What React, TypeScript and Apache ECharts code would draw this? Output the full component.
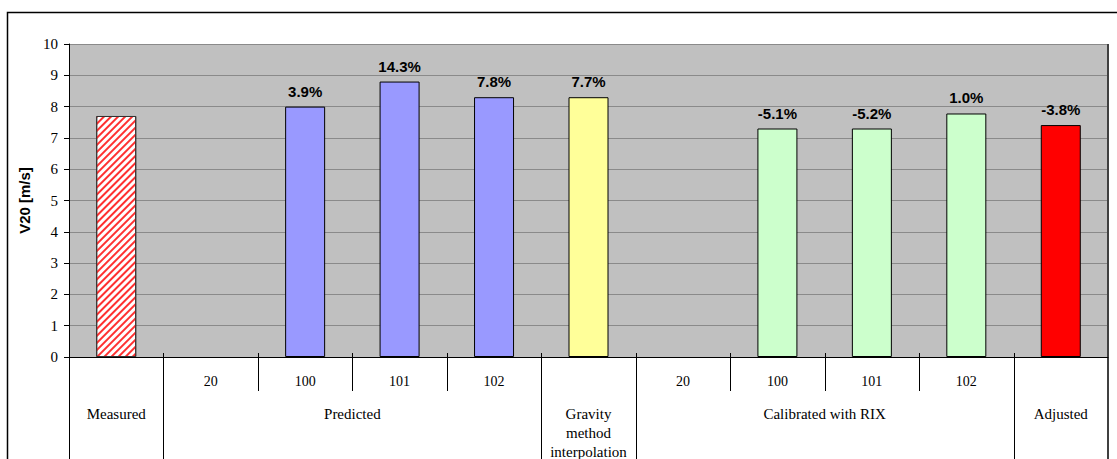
import React, { useEffect, useRef } from "react";
import * as echarts from "echarts";

const subLabels = ["", "20", "100", "101", "102", "", "20", "100", "101", "102", ""];
const values: (number | null)[] = [7.7, null, 8.0, 8.8, 8.3, 8.3, null, 7.3, 7.3, 7.78, 7.41];
const pctLabels = ["", "", "3.9%", "14.3%", "7.8%", "7.7%", "", "-5.1%", "-5.2%", "1.0%", "-3.8%"];
const barColors = [
  "#FFFFFF", "#9999FF", "#9999FF", "#9999FF", "#9999FF", "#FFFF99",
  "#CCFFCC", "#CCFFCC", "#CCFFCC", "#CCFFCC", "#FF0000",
];
const groupNames = ["Measured", "Predicted", "Gravity\nmethod\ninterpolation", "Calibrated with RIX", "Adjusted"];
const groupSpans = [1, 4, 1, 4, 1];
const yMin = 0;
const yMax = 10;
const yStep = 1;

const W = 1117;
const H = 459;

export default function App() {
  const ref = useRef<HTMLDivElement>(null);
  useEffect(() => {
    if (!ref.current) return;
    const chart = echarts.init(ref.current, null, { renderer: "svg", width: W, height: H });
    chart.setOption({
      animation: false,
      grid: {
        left: 69,
        right: 9,
        top: 44,
        bottom: 102,
        show: true,
        backgroundColor: "#C0C0C0",
        borderWidth: 0,
      },
      xAxis: {
        type: "category",
        data: subLabels,
        boundaryGap: true,
        axisLine: { lineStyle: { color: "#000", width: 1 } },
        axisTick: { show: false },
        axisLabel: {
          interval: 0,
          margin: 17,
          fontFamily: "Liberation Serif",
          fontSize: 14,
          color: "#000",
        },
        splitLine: { show: false },
      },
      yAxis: {
        type: "value",
        min: yMin,
        max: yMax,
        interval: yStep,
        name: "V20 [m/s]",
        nameLocation: "middle",
        nameRotate: 90,
        nameGap: 34,
        nameTextStyle: {
          fontFamily: "Liberation Sans",
          fontWeight: "bold",
          fontSize: 15,
          color: "#000",
        },
        axisLine: { show: true, lineStyle: { color: "#000", width: 1 } },
        axisTick: { show: true, length: 5, lineStyle: { color: "#000" } },
        axisLabel: {
          margin: 11,
          fontFamily: "Liberation Serif",
          fontSize: 15,
          color: "#000",
        },
        splitLine: { show: true, lineStyle: { color: "#8a8a8a", width: 1 } },
      },
      series: [
        {
          type: "bar",
          barWidth: 40,
          data: values.map((v, i) => ({
            value: v,
            itemStyle: {
              color: barColors[i],
              borderColor: i === 0 ? "#333" : "#000",
              borderWidth: 1,
              decal:
                i === 0
                  ? {
                      symbol: "rect",
                      symbolSize: 1,
                      dashArrayX: [1, 0],
                      dashArrayY: [1.6, 2.6],
                      rotation: -Math.PI / 4,
                      color: "#FF3030",
                    }
                  : undefined,
            },
            label: { show: pctLabels[i] !== "" },
          })),
          label: {
            position: "top",
            distance: 8,
            fontFamily: "Liberation Sans",
            fontWeight: "bold",
            fontSize: 15,
            color: "#000",
            formatter: (p: any) => pctLabels[p.dataIndex],
          },
        },
      ],
    });

    const cx = (i: number) => chart.convertToPixel({ xAxisIndex: 0 }, i) as number;
    const cy = (v: number) => chart.convertToPixel({ yAxisIndex: 0 }, v) as number;
    const half = (cx(1) - cx(0)) / 2;
    const bound = (b: number) => cx(0) - half + b * 2 * half;
    const y0 = cy(yMin);
    const yTop = cy(yMax);

    const graphics: any[] = [];
    graphics.push({
      type: "rect",
      shape: { x: 7.5, y: 12.5, width: 1300, height: 700 },
      style: { fill: "none", stroke: "#000", lineWidth: 1.5 },
      silent: true,
    });
    let start = 0;
    groupSpans.forEach((span, gi) => {
      const bx = Math.round(bound(start)) + 0.5;
      graphics.push({
        type: "line",
        shape: { x1: bx, y1: gi === 0 ? y0 : y0 - 4, x2: bx, y2: H },
        style: { stroke: "#000", lineWidth: 1 },
        silent: true,
      });
      for (let k = 1; k < span; k++) {
        const ix = Math.round(bound(start + k)) + 0.5;
        graphics.push({
          type: "line",
          shape: { x1: ix, y1: y0 - 4, x2: ix, y2: y0 + 34 },
          style: { stroke: "#000", lineWidth: 1 },
          silent: true,
        });
      }
      const center = (bound(start) + bound(start + span)) / 2;
      graphics.push({
        type: "text",
        x: center,
        y: y0 + 47,
        style: {
          text: groupNames[gi],
          fill: "#000",
          font: '15px "Liberation Serif"',
          align: "center",
          verticalAlign: "top",
          lineHeight: 19,
        },
        silent: true,
      });
      start += span;
    });
    const rx = Math.round(bound(start));
    graphics.push({
      type: "line",
      shape: { x1: rx, y1: yTop, x2: rx, y2: H },
      style: { stroke: "#404040", lineWidth: 2 },
      silent: true,
    });
    chart.setOption({ graphic: graphics });

    return () => chart.dispose();
  }, []);
  return (
    <div
      ref={ref}
      style={{ position: "fixed", left: 0, top: 0, width: W, height: H, background: "#fff" }}
    />
  );
}
